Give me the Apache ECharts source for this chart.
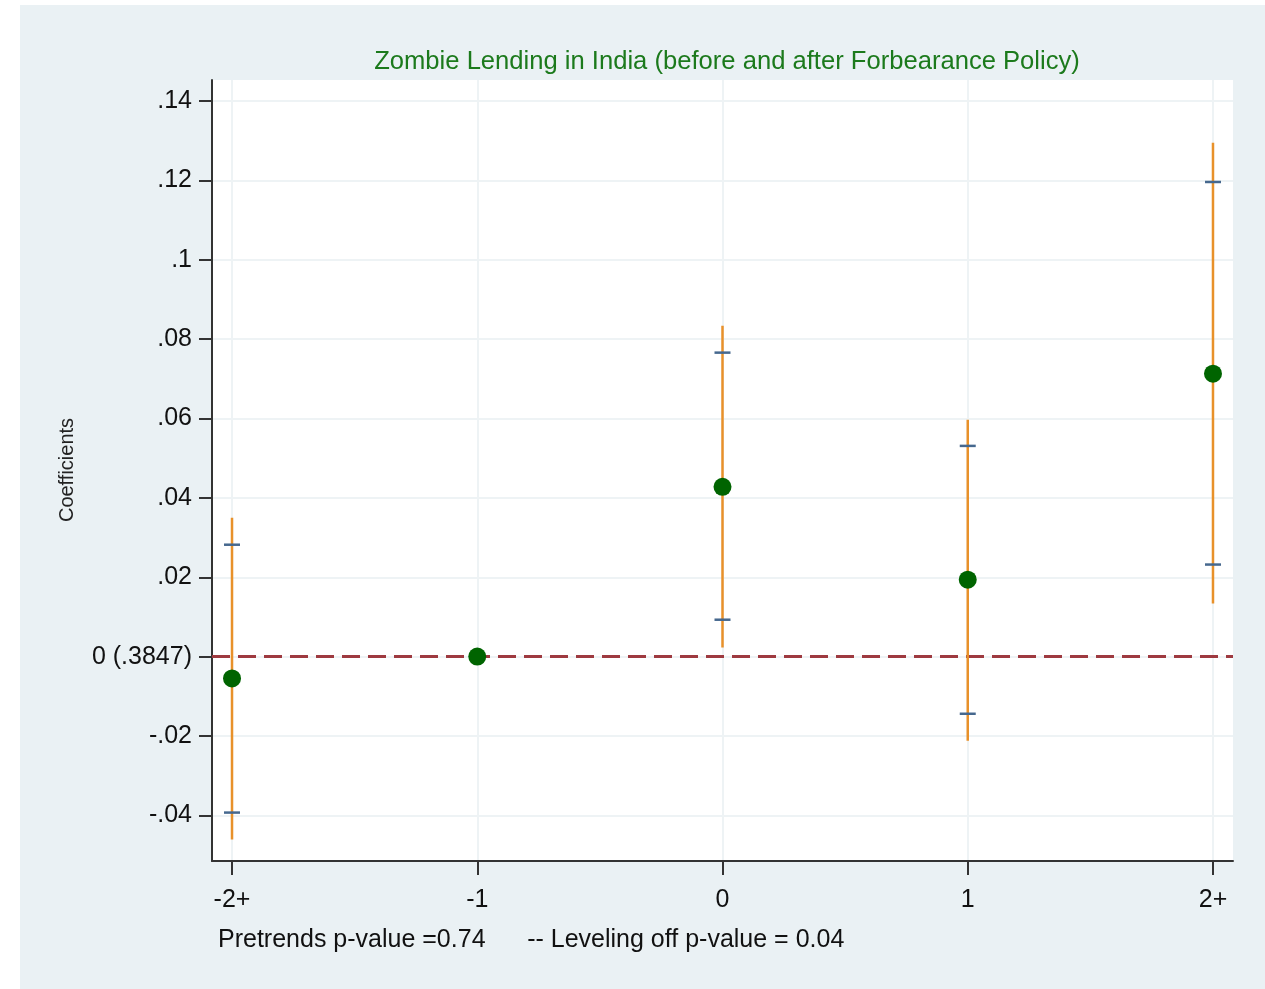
<!DOCTYPE html>
<html>
<head>
<meta charset="utf-8">
<script src="https://cdn.jsdelivr.net/npm/echarts@6/dist/echarts.min.js"></script>
<style>
  html, body { margin: 0; padding: 0; background: #ffffff; }
  #chart { width: 1265px; height: 989px; }
</style>
</head>
<body>
<div id="chart"></div>
<script>
// ---- data ----
const categories = ['-2+', '-1', '0', '1', '2+'];
const coefficients = [-0.0055, 0.0, 0.0428, 0.0194, 0.0713];
const ci95Low  = [-0.0461, null, 0.0023, -0.0212, 0.0134];
const ci95High = [0.0350, null, 0.0834, 0.0597, 0.1295];
const ci90Low  = [-0.0393, null, 0.0093, -0.0144, 0.0232];
const ci90High = [0.0282, null, 0.0766, 0.0531, 0.1196];
const yTickValues = [-0.04, -0.02, 0, 0.02, 0.04, 0.06, 0.08, 0.10, 0.12, 0.14];
const yTickLabels = ['-.04', '-.02', '0 (.3847)', '.02', '.04', '.06', '.08', '.1', '.12', '.14'];
const xTickValues = [0, 1, 2, 3, 4];
const titleText = 'Zombie Lending in India (before and after Forbearance Policy)';
const yAxisTitle = 'Coefficients';
const noteText = 'Pretrends p-value =0.74      -- Leveling off p-value = 0.04';

const FONT = '"Liberation Sans", Arial, sans-serif';
const chart = echarts.init(document.getElementById('chart'), null, { renderer: 'canvas' });

function yLabel(v) {
  let best = 0, bd = Infinity;
  yTickValues.forEach((t, i) => { const d = Math.abs(t - v); if (d < bd) { bd = d; best = i; } });
  return yTickLabels[best];
}

const ciData = categories.map((c, i) => [i, ci95Low[i], ci95High[i]]).filter(d => d[1] !== null);
const capData = [];
categories.forEach((c, i) => {
  if (ci90Low[i] !== null) { capData.push([i, ci90Low[i]]); capData.push([i, ci90High[i]]); }
});
const pointData = categories.map((c, i) => [i, coefficients[i]]);

const option = {
  backgroundColor: '#ffffff',
  animation: false,
  graphic: [
    { type: 'rect', z: -10, shape: { x: 20, y: 5, width: 1245, height: 984 }, style: { fill: '#eaf1f4' } },
    { type: 'text', z: 10, x: 67, y: 470, rotation: Math.PI / 2,
      style: { text: yAxisTitle, fill: '#222', font: '20px ' + FONT, textAlign: 'center', textVerticalAlign: 'middle' } },
    { type: 'text', z: 10, x: 218, y: 940,
      style: { text: noteText, fill: '#111', font: '25px ' + FONT, textAlign: 'left', textVerticalAlign: 'middle' } }
  ],
  title: {
    text: titleText,
    left: 722, top: 44, textAlign: 'center',
    textStyle: { color: '#1c7a1c', fontSize: 25.6, fontWeight: 'normal', fontFamily: FONT }
  },
  grid: {
    left: 212, top: 80, right: 32, bottom: 128,
    show: true, backgroundColor: '#ffffff', borderWidth: 0
  },
  xAxis: {
    type: 'value', min: -0.0816, max: 4.0816,
    axisLine: { show: true, onZero: false, lineStyle: { color: '#333', width: 2 } },
    axisTick: { show: true, customValues: xTickValues, length: 14, lineStyle: { color: '#333', width: 2 } },
    axisLabel: { customValues: xTickValues, margin: 27, color: '#111', fontSize: 25, fontFamily: FONT,
      formatter: v => categories[Math.round(v)] },
    splitLine: { show: true, lineStyle: { color: '#eef3f5', width: 2 } }
  },
  yAxis: {
    type: 'value', min: -0.0515, max: 0.1453,
    axisLine: { show: true, onZero: false, lineStyle: { color: '#333', width: 2 } },
    axisTick: { show: true, customValues: yTickValues, length: 13, lineStyle: { color: '#333', width: 2 } },
    axisLabel: { customValues: yTickValues, margin: 20, color: '#111', fontSize: 25, fontFamily: FONT,
      formatter: v => yLabel(v) },
    splitLine: { show: true, lineStyle: { color: '#eef3f5', width: 2 } }
  },
  series: [
    {
      type: 'custom', name: 'ci95', z: 3,
      renderItem: function (params, api) {
        const p1 = api.coord([api.value(0), api.value(1)]);
        const p2 = api.coord([api.value(0), api.value(2)]);
        return { type: 'line', shape: { x1: p1[0], y1: p1[1], x2: p2[0], y2: p2[1] },
          style: { stroke: '#e8912a', lineWidth: 2.5 } };
      },
      encode: { x: 0, y: [1, 2] },
      data: ciData
    },
    {
      type: 'custom', name: 'ci90', z: 4,
      renderItem: function (params, api) {
        const p = api.coord([api.value(0), api.value(1)]);
        return { type: 'line', shape: { x1: p[0] - 8, y1: p[1], x2: p[0] + 8, y2: p[1] },
          style: { stroke: '#46688e', lineWidth: 2.5 } };
      },
      encode: { x: 0, y: 1 },
      data: capData
    },
    {
      type: 'scatter', name: 'coef', z: 5,
      symbol: 'circle', symbolSize: 18,
      itemStyle: { color: '#006400', opacity: 1 },
      data: pointData,
      markLine: {
        silent: true, symbol: 'none', z: 2,
        label: { show: false },
        lineStyle: { color: '#9e3a40', width: 3, type: [18, 8], opacity: 1 },
        data: [{ yAxis: 0 }]
      }
    }
  ]
};
chart.setOption(option);
</script>
</body>
</html>
